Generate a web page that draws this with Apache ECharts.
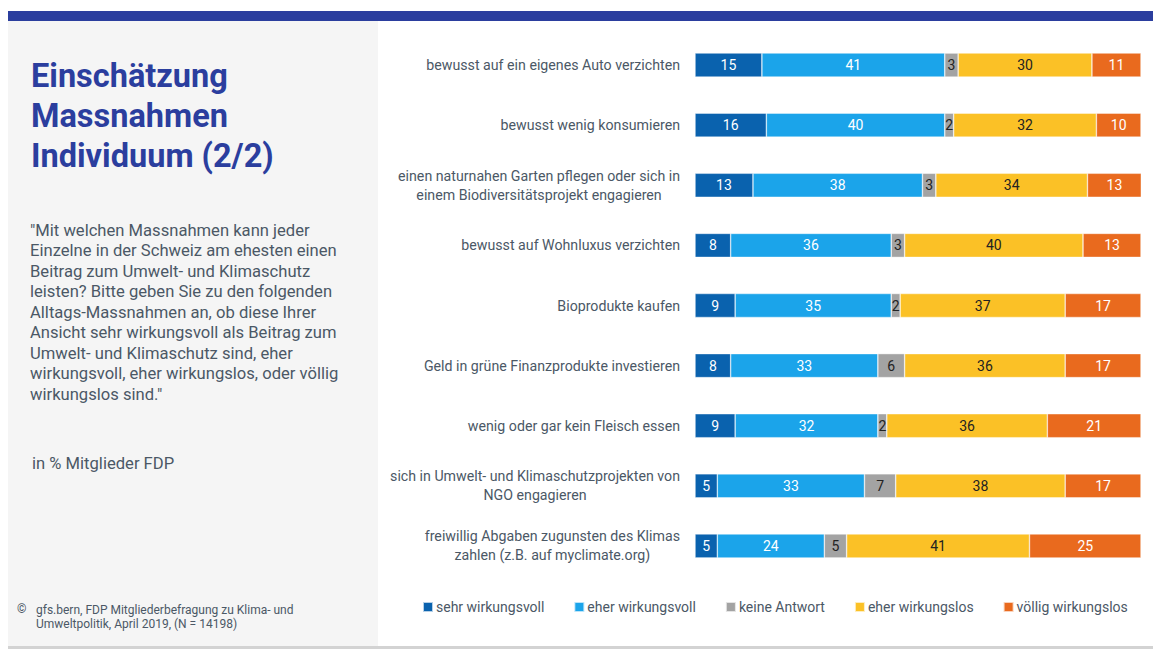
<!DOCTYPE html>
<html>
<head>
<meta charset="utf-8">
<script src="https://cdn.jsdelivr.net/npm/echarts@6/dist/echarts.min.js"></script>
<style>
html,body{margin:0;padding:0;background:#fff;}
#chart{width:1153px;height:649px;}
</style>
</head>
<body>
<div id="chart"></div>
<script>
var categories = [
  'bewusst auf ein eigenes Auto verzichten',
  'bewusst wenig konsumieren',
  'einen naturnahen Garten pflegen oder sich in\neinem Biodiversitätsprojekt engagieren',
  'bewusst auf Wohnluxus verzichten',
  'Bioprodukte kaufen',
  'Geld in grüne Finanzprodukte investieren',
  'wenig oder gar kein Fleisch essen',
  'sich in Umwelt- und Klimaschutzprojekten von\nNGO engagieren',
  'freiwillig Abgaben zugunsten des Klimas\nzahlen (z.B. auf myclimate.org)'
];
var seriesNames = ['sehr wirkungsvoll', 'eher wirkungsvoll', 'keine Antwort', 'eher wirkungslos', 'völlig wirkungslos'];
var sehrWirkungsvoll  = [15, 16, 13, 8, 9, 8, 9, 5, 5];
var eherWirkungsvoll  = [41, 40, 38, 36, 35, 33, 32, 33, 24];
var keineAntwort      = [3, 2, 3, 3, 2, 6, 2, 7, 5];
var eherWirkungslos   = [30, 32, 34, 40, 37, 36, 36, 38, 41];
var voelligWirkungslos = [11, 10, 13, 13, 17, 17, 21, 17, 25];
var seriesData = [sehrWirkungsvoll, eherWirkungsvoll, keineAntwort, eherWirkungslos, voelligWirkungslos];
var colors = ['#0A62AE', '#1BA4EA', '#A3A3A3', '#FBC126', '#E96A1E'];
var labelColors = ['#ffffff', '#ffffff', '#222222', '#222222', '#ffffff'];

var titleText = 'Einschätzung\nMassnahmen\nIndividuum (2/2)';
var questionText = '"Mit welchen Massnahmen kann jeder\nEinzelne in der Schweiz am ehesten einen\nBeitrag zum Umwelt- und Klimaschutz\nleisten? Bitte geben Sie zu den folgenden\nAlltags-Massnahmen an, ob diese Ihrer\nAnsicht sehr wirkungsvoll als Beitrag zum\nUmwelt- und Klimaschutz sind, eher\nwirkungsvoll, eher wirkungslos, oder völlig\nwirkungslos sind."';
var unitText = 'in % Mitglieder FDP';
var sourceText = 'gfs.bern, FDP Mitgliederbefragung zu Klima- und\nUmweltpolitik, April 2019, (N = 14198)';

var FONT = 'Roboto';
var TXT = '#4B5866';

var chart = echarts.init(document.getElementById('chart'), null, {renderer: 'svg'});
var series = seriesNames.map(function (name, i) {
  return {
    name: name,
    type: 'bar',
    stack: 'total',
    barWidth: 24,
    data: seriesData[i],
    itemStyle: {color: colors[i], borderColor: 'rgba(255,255,255,0.7)', borderWidth: 0.6},
    label: {
      show: true,
      position: 'inside',
      color: labelColors[i],
      fontFamily: FONT,
      fontSize: 14
    },
    emphasis: {disabled: true}
  };
});

chart.setOption({
  backgroundColor: '#ffffff',
  animation: false,
  grid: {left: 695, right: 12, top: 35, bottom: 73, containLabel: false},
  xAxis: {type: 'value', min: 0, max: 100, show: false},
  yAxis: {
    type: 'category',
    data: categories,
    inverse: true,
    axisLine: {show: false},
    axisTick: {show: false},
    splitLine: {show: false},
    axisLabel: {
      margin: 15,
      fontFamily: FONT,
      fontSize: 14.2,
      color: TXT,
      lineHeight: 19,
      formatter: function (v) {
        return v.split('\n').map(function (l) { return '{c|' + l + '}'; }).join('\n');
      },
      rich: {c: {align: 'center', fontFamily: FONT, fontSize: 14.2, color: TXT, lineHeight: 19}}
    }
  },
  legend: {
    data: seriesNames,
    left: 417,
    top: 595,
    itemWidth: 10,
    itemHeight: 10,
    itemGap: 29,
    icon: 'rect',
    selectedMode: false,
    textStyle: {fontFamily: FONT, fontSize: 14, color: TXT, padding: [0, 0, 0, -2]}
  },
  graphic: [
    {type: 'rect', left: 8, top: 21, shape: {width: 370, height: 625}, style: {fill: '#F5F5F5'}, silent: true, z: -10},
    {type: 'rect', left: 8, top: 11, shape: {width: 1145, height: 10}, style: {fill: '#2B3E9E'}, silent: true},
    {type: 'rect', left: 8, top: 646, shape: {width: 1145, height: 3}, style: {fill: '#D3D3D3'}, silent: true},
    {type: 'text', left: 31, top: 56, style: {text: titleText, fontFamily: FONT, fontWeight: 'bold', fontSize: 32.5, lineHeight: 40, fill: '#2B3E9E'}},
    {type: 'text', left: 30, top: 220, style: {text: questionText, fontFamily: FONT, fontSize: 16.6, lineHeight: 20.5, fill: TXT}},
    {type: 'text', left: 32, top: 455, style: {text: unitText, fontFamily: FONT, fontSize: 16.6, fill: TXT}},
    {type: 'text', left: 17, top: 603, style: {text: '©', fontFamily: FONT, fontSize: 12, fill: TXT}},
    {type: 'text', left: 36, top: 603, style: {text: sourceText, fontFamily: FONT, fontSize: 12, lineHeight: 14, fill: TXT}}
  ],
  series: series
});
</script>
</body>
</html>
